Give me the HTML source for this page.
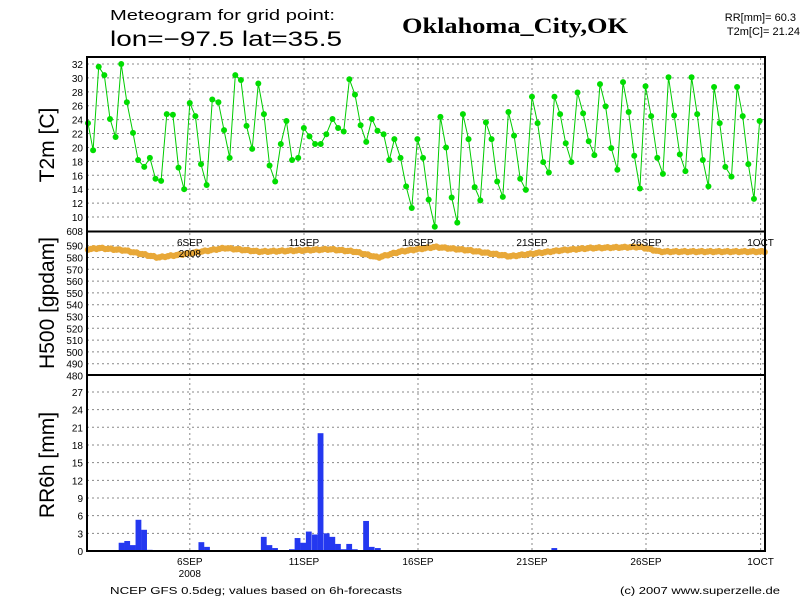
<!DOCTYPE html>
<html><head><meta charset="utf-8">
<style>
html,body{margin:0;padding:0;background:#fff;width:800px;height:600px;overflow:hidden}
svg{display:block}
text{font-family:"Liberation Sans",sans-serif;fill:#000}
</style></head>
<body>
<svg id="s" width="800" height="600" xmlns="http://www.w3.org/2000/svg">
<rect width="800" height="600" fill="#fff"/>
<text x="110" y="20" font-size="15" textLength="225" lengthAdjust="spacingAndGlyphs">Meteogram for grid point:</text>
<text x="110" y="46" font-size="21" textLength="232" lengthAdjust="spacingAndGlyphs">lon=−97.5 lat=35.5</text>
<text x="402" y="33" font-size="22" font-weight="bold" textLength="226" lengthAdjust="spacingAndGlyphs" style="font-family:'Liberation Serif',serif">Oklahoma_City,OK</text>
<text x="796" y="21" font-size="11" text-anchor="end">RR[mm]= 60.3</text>
<text x="800" y="35" font-size="11" text-anchor="end">T2m[C]= 21.24</text>
<g id="grid" stroke="#888" stroke-width="1" stroke-dasharray="2,3"></g>
<g id="data"></g>
<g fill="none" stroke="#000" stroke-width="2">
<rect x="87" y="57" width="678" height="494"/>
<line x1="87" y1="231.5" x2="765" y2="231.5"/>
<line x1="87" y1="375" x2="765" y2="375"/>
</g>
<g id="lab" font-size="10"></g>
<text transform="translate(54,145) rotate(-90)" font-size="21" text-anchor="middle">T2m [C]</text>
<text transform="translate(54,303) rotate(-90)" font-size="21" text-anchor="middle">H500 [gpdam]</text>
<text transform="translate(54,465) rotate(-90)" font-size="21" text-anchor="middle">RR6h [mm]</text>
<text x="110" y="594" font-size="10" textLength="292" lengthAdjust="spacingAndGlyphs">NCEP GFS 0.5deg; values based on 6h-forecasts</text>
<text x="620" y="594" font-size="10" textLength="160" lengthAdjust="spacingAndGlyphs">(c) 2007 www.superzelle.de</text>
</svg>
<script>
var NS="http://www.w3.org/2000/svg";
function el(p,t,a,txt){var e=document.createElementNS(NS,t);for(var k in a)e.setAttribute(k,a[k]);if(txt!==undefined)e.textContent=txt;document.getElementById(p).appendChild(e);return e;}
var L=87,R=765;
var tx=[189.8,304,418,532,646,760.6],tn=["6SEP","11SEP","16SEP","21SEP","26SEP","1OCT"];
tx.forEach(function(x){el("grid","line",{x1:x,y1:58,x2:x,y2:550});});
function yT(v){return 64+(32-v)*6.955;}
for(var v=10;v<=32;v+=2){el("grid","line",{x1:L,y1:yT(v),x2:R,y2:yT(v)});el("lab","text",{x:83,y:yT(v)+4,"text-anchor":"end"},v);}
el("lab","text",{x:83,y:235,"text-anchor":"end"},"608");
function yH(v){return 245.7+(590-v)*1.18;}
for(var v=480;v<=590;v+=10){if(v>480)el("grid","line",{x1:L,y1:yH(v),x2:R,y2:yH(v)});el("lab","text",{x:83,y:yH(v)+4,"text-anchor":"end"},v);}
function yR(v){return 551-v*5.89;}
for(var v=0;v<=27;v+=3){if(v>0)el("grid","line",{x1:L,y1:yR(v),x2:R,y2:yR(v)});el("lab","text",{x:83,y:yR(v)+4,"text-anchor":"end"},v);}
tx.forEach(function(x,i){el("lab","text",{x:x,y:246,"text-anchor":"middle"},tn[i]);el("lab","text",{x:x,y:565,"text-anchor":"middle"},tn[i]);});
el("lab","text",{x:189.8,y:577,"text-anchor":"middle"},"2008");
el("lab","text",{x:189.8,y:257,"text-anchor":"middle"},"2008");
var T=[[172,23.5],[182,19.6],[193,31.6],[204,30.4],[215,24.1],[226,21.5],[237,32],[248,26.5],[260,22.1],[270,18.2],[282,17.2],[293,18.5],[304,15.5],[315,15.2],[326,24.8],[338,24.7],[349,17.1],[360,14.0],[371,26.4],[382,24.5],[393,17.6],[404,14.6],[415,26.9],[427,26.5],[438,22.5],[449,18.5],[460,30.4],[471,29.7],[482,23.1],[493,19.8],[505,29.2],[516,24.8],[527,17.4],[538,15.1],[549,20.5],[560,23.8],[571,18.2],[583,18.5],[594,22.8],[605,21.6],[616,20.5],[627,20.5],[638,21.9],[650,24.1],[661,22.8],[672,22.3],[683,29.8],[694,27.6],[705,23.2],[716,20.8],[727,24.1],[738,22.4],[750,21.9],[761,18.2],[771,21.2],[783,18.5],[794,14.4],[805,11.3],[816,21.2],[827,18.5],[838,12.5],[850,8.6],[861,24.4],[872,20.0],[883,12.8],[894,9.2],[905,24.8],[916,21.2],[928,14.3],[939,12.4],[950,23.6],[961,21.2],[972,15.1],[983,12.9],[994,25.1],[1005,21.7],[1017,15.5],[1028,13.9],[1040,27.3],[1051,23.5],[1062,17.9],[1073,16.4],[1084,27.3],[1095,24.8],[1106,20.6],[1117,17.9],[1129,27.9],[1140,24.9],[1151,20.9],[1162,18.9],[1173,29.1],[1184,25.9],[1195,19.9],[1207,16.8],[1218,29.4],[1229,25.1],[1240,18.8],[1251,14.1],[1262,28.8],[1273,24.5],[1285,18.5],[1296,16.2],[1307,30.1],[1318,24.6],[1329,19.0],[1340,16.6],[1352,30.1],[1363,24.8],[1374,18.2],[1385,14.4],[1396,28.7],[1407,23.5],[1418,17.2],[1430,15.8],[1441,28.7],[1452,24.5],[1463,17.6],[1474,12.6],[1485,23.8]];
var pts=T.map(function(p){return (p[0]/1.955).toFixed(1)+","+yT(p[1]).toFixed(1);}).join(" ");
el("data","polyline",{points:pts,fill:"none",stroke:"#00cc00","stroke-width":1});
T.forEach(function(p){el("data","circle",{cx:p[0]/1.955,cy:yT(p[1]),r:3,fill:"#00dd00"});});
var K=[[88,587],[100,588],[125,586],[158,580],[185,583],[225,588],[260,585],[300,586],[330,587],[355,585],[378,580],[400,585],[435,589],[470,586],[510,581],[540,584],[560,586],[590,588],[640,589],[660,585],[700,585],[765,585]];
function hv(x){for(var i=0;i<K.length-1;i++){if(x<=K[i+1][0]){var t=(x-K[i][0])/(K[i+1][0]-K[i][0]);return K[i][1]+t*(K[i+1][1]-K[i][1]);}}return 585;}
for(var i=0;i<240;i++){var x=88+i*2.855;if(x>766)break;var v=hv(x)+((i*7)%3-1)*0.4;el("data","circle",{cx:x,cy:yH(v),r:3.2,fill:"#e8a838"});}
var B=[[232,1.4],[243,1.7],[254,1.0],[265,5.3],[276,3.6],[287,0.2],[388,1.5],[399,0.7],[499,0.15],[510,2.4],[521,1.0],[532,0.5],[565,0.3],[576,2.2],[587,1.4],[598,3.3],[610,2.8],[621,20],[633,3.0],[644,2.4],[655,1.2],[666,0.3],[677,1.2],[688,0.3],[710,5.1],[721,0.7],[733,0.5],[1067,0.15],[1078,0.5]];
B.forEach(function(b){var x=b[0]/1.955;el("data","rect",{x:x,y:yR(b[1]),width:5.8,height:b[1]*5.89,fill:"#2438f0"});});
</script>
</body></html>
